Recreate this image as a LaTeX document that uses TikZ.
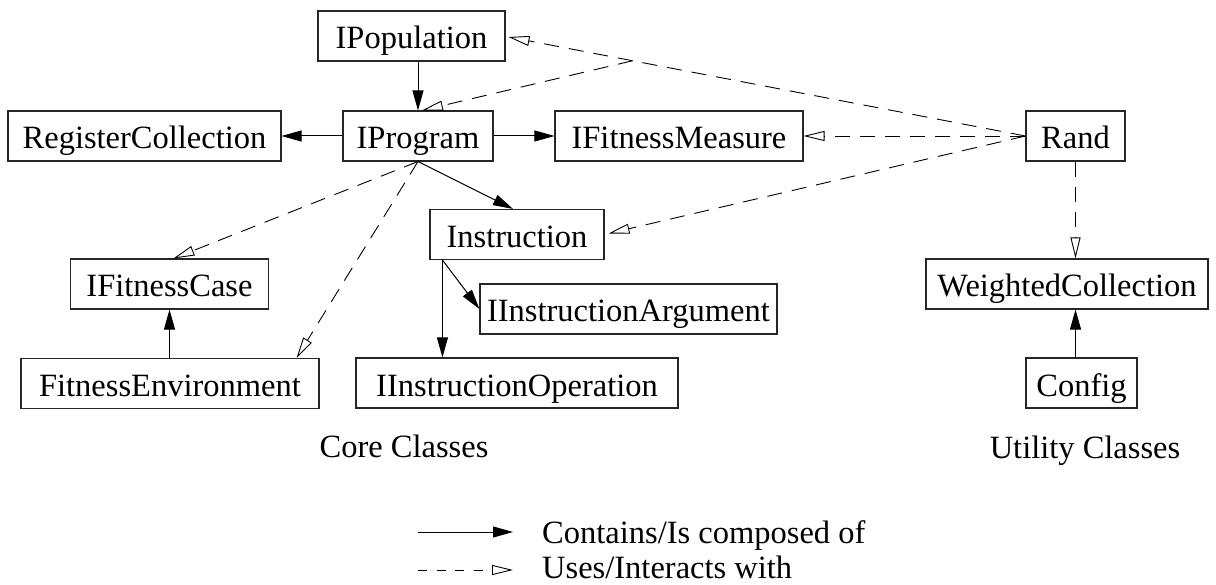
\documentclass[tikz,border=0pt]{standalone}
\usepackage{fontspec}
\setmainfont{Liberation Serif}
\usetikzlibrary{arrows.meta,calc}
\begin{document}
\begin{tikzpicture}[x=1pt,y=-1pt,
  box/.style={draw=black!85, line width=1.1pt, minimum height=50pt, inner xsep=0pt,
    inner ysep=12pt, text height=26pt, text depth=0pt, anchor=center,
    font=\fontsize{32.5}{39}\selectfont},
  lbl/.style={font=\fontsize{32.5}{39}\selectfont, inner sep=0pt},
  comp/.style={-{Triangle[length=20pt,width=11pt]}, line width=1pt},
  uses/.style={-{Triangle[open,length=21pt,width=10pt]}, dash pattern=on 15pt off 10pt, line width=0.9pt}
]
\useasboundingbox (0,0) rectangle (1216,585);

% nodes
\node[box, minimum width=187pt] (pop)  at (411.5,36)  {IPopulation};
\node[box, minimum width=150pt] (prog) at (418,136)   {IProgram};
\node[box, minimum width=273pt] (reg)  at (144.5,136) {RegisterCollection};
\node[box, minimum width=248pt] (fm)   at (679,136)   {IFitnessMeasure};
\node[box, minimum width=99pt]  (rand) at (1075.5,136) {Rand};
\node[box, minimum width=174pt] (instr) at (517,234.5) {Instruction};
\node[box, minimum width=198pt] (fc)   at (169.5,284) {IFitnessCase};
\node[box, minimum width=297pt] (iarg) at (628.5,309) {IInstructionArgument};
\node[box, minimum width=282pt] (wc)   at (1067,284)  {WeightedCollection};
\node[box, minimum width=298pt] (fe)   at (170,383.5) {FitnessEnvironment};
\node[box, minimum width=322pt] (iop)  at (517,383)   {IInstructionOperation};
\node[box, minimum width=111pt] (cfg)  at (1081.5,383) {Config};

\node[lbl, anchor=base] (core) at (404,457) {Core Classes};
\node[lbl, anchor=base] (util) at (1085,458) {Utility Classes};

% composition connectors
\draw[comp] (prog.north |- pop.south) -- (prog.north);
\draw[comp] (prog.west) -- (reg.east);
\draw[comp] (prog.east) -- (fm.west);
\draw[comp] (prog.south) -- ($(instr.north)+(-4,0)$);
\coordinate (ibase) at ($(instr.south west)+(13,0)$);
\draw[comp] (ibase) -- (ibase |- iop.north);
\draw[comp] (ibase) -- (iarg.west);
\draw[comp] (fc.south |- fe.north) -- (fc.south);
\draw[comp] (rand.south |- cfg.north) -- (rand.south |- wc.south);

% uses connectors
\coordinate (popend) at ($(pop.east)+(3,1)$);
\coordinate (junc) at ($(rand.west)!0.76!(popend)$);
\draw[uses] (rand.west) -- (popend);
\draw[uses] (junc) -- ($(prog.north)+(4,0)$);
\draw[uses] (rand.west) -- (fm.east);
\draw[uses] (rand.west) -- ($(instr.east)+(4,-1)$);
\draw[uses] (rand.south) -- (rand.south |- wc.north);
\draw[uses] (prog.south) -- ($(fc.north)+(4,0)$);
\draw[uses] (prog.south) -- ($(fe.north east)+(-23,0)$);

% legend
\coordinate (la1) at (418,532);
\coordinate (lb1) at (513,532);
\coordinate (la2) at (418,570);
\coordinate (lb2) at (513,570);
\draw[comp] (la1) -- (lb1);
\draw[uses, dash pattern=on 9pt off 9.5pt] (la2) -- (lb2);
\node[lbl, anchor=base west] (leg1) at (542,543) {Contains/Is composed of};
\node[lbl, anchor=base west] (leg2) at (542,578) {Uses/Interacts with};
\end{tikzpicture}
\end{document}
